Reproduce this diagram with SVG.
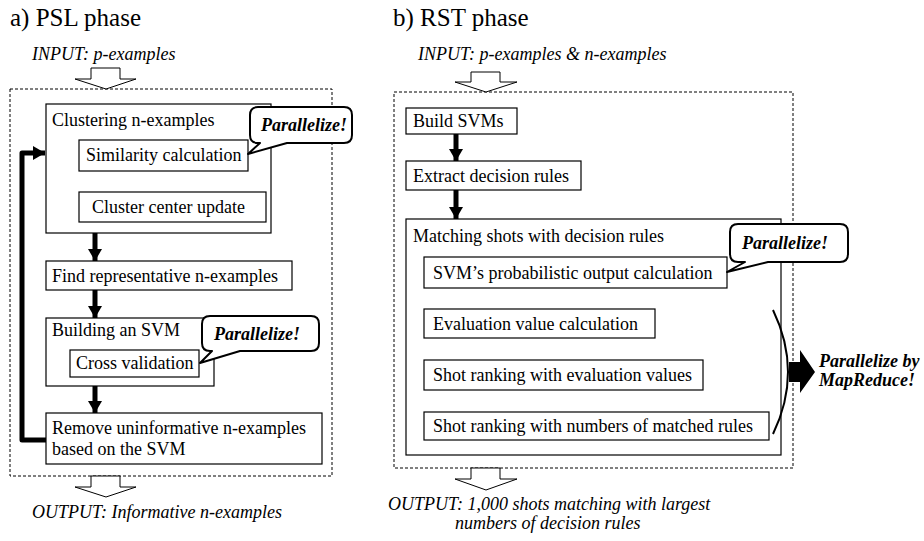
<svg xmlns="http://www.w3.org/2000/svg" width="924" height="541" viewBox="0 0 924 541">
<defs>
<style>
text{font-family:"Liberation Serif","Times New Roman",serif;fill:#000}
.t{font-size:18px}
.ti{font-size:25px}
.it{font-size:18px;font-style:italic}
.bi{font-size:18px;font-style:italic;font-weight:bold}
.box{fill:#fff;stroke:#000;stroke-width:1.2}
.dash{fill:none;stroke:#000;stroke-width:1;stroke-dasharray:3,2}
.thick{fill:none;stroke:#000;stroke-width:5}
.thin{fill:none;stroke:#000;stroke-width:1.5}
.hollow{fill:#fff;stroke:#000;stroke-width:1}
.call{fill:#fff;stroke:#000;stroke-width:2;stroke-linejoin:round}
</style>
<marker id="hk" markerUnits="userSpaceOnUse" markerWidth="14" markerHeight="14" refX="12" refY="7" orient="auto"><path d="M0,0 L12,7 L0,14 Z" fill="#000"/></marker>
<marker id="hs" markerUnits="userSpaceOnUse" markerWidth="8" markerHeight="8" refX="8" refY="4" orient="auto"><path d="M0,0 L8,4 L0,8 Z" fill="#000"/></marker>
</defs>

<!-- Titles -->
<text class="ti" x="10" y="26">a) PSL phase</text>
<text class="ti" x="393" y="26">b) RST phase</text>

<!-- Input/Output labels -->
<text class="it" x="32" y="60">INPUT: p-examples</text>
<text class="it" x="418" y="60">INPUT: p-examples &amp; n-examples</text>
<text class="it" x="32" y="518">OUTPUT: Informative n-examples</text>
<text class="it" x="388" y="510">OUTPUT: 1,000 shots matching with largest</text>
<text class="it" x="455" y="529">numbers of decision rules</text>

<!-- Dashed frames -->
<rect class="dash" x="10" y="89" width="322" height="387"/>
<rect class="dash" x="394" y="92" width="399" height="376"/>

<g id="connectors">
<!-- hollow arrows -->
<path class="hollow" d="M91,68 H120 V79 H136 L106,89 L75,79 H91 Z"/>
<path class="hollow" d="M91,476 H120 V487 H136 L106,497 L75,487 H91 Z"/>
<path class="hollow" d="M471,72 H500 V82 H517 L486,92 L455,82 H471 Z"/>
<path class="hollow" d="M471,468 H500 V479 H517 L486,490 L455,479 H471 Z"/>
<!-- left thick -->
<path class="thick" d="M95,233 V261" marker-end="url(#hk)"/>
<path class="thick" d="M95,290 V318" marker-end="url(#hk)"/>
<path class="thick" d="M95,386 V413" marker-end="url(#hk)"/>
<path class="thick" d="M46,440 H22 V153 H45" stroke-linejoin="round" marker-end="url(#hk)"/>
<!-- left thin -->
<path class="thin" d="M160,171 V192" marker-end="url(#hs)"/>
<path class="thin" d="M79,207 H61 V153 H79" marker-end="url(#hs)"/>
<!-- right thick -->
<path class="thick" d="M456,134 V161" marker-end="url(#hk)"/>
<path class="thick" d="M456,190 V219" marker-end="url(#hk)"/>
<!-- right thin -->
<path class="thin" d="M460,288 V309" marker-end="url(#hs)"/>
<path class="thin" d="M460,338 V360" marker-end="url(#hs)"/>
<path class="thin" d="M460,390 V412" marker-end="url(#hs)"/>
</g>

<!-- Left nodes -->
<g id="clustering">
<rect class="box" x="46" y="104" width="225" height="129"/>
<text class="t" x="52" y="126">Clustering n-examples</text>
</g>
<g id="similarity">
<rect class="box" x="79" y="140" width="169" height="31"/>
<text class="t" x="86" y="161">Similarity calculation</text>
</g>
<g id="cluster-center">
<rect class="box" x="79" y="192" width="187" height="30"/>
<text class="t" x="92" y="213">Cluster center update</text>
</g>
<g id="find-rep">
<rect class="box" x="46" y="261" width="246" height="29"/>
<text class="t" x="52" y="282">Find representative n-examples</text>
</g>
<g id="building-svm">
<rect class="box" x="46" y="318" width="168" height="68"/>
<text class="t" x="52" y="336">Building an SVM</text>
</g>
<g id="cross-validation">
<rect class="box" x="70" y="350" width="129" height="27"/>
<text class="t" x="76" y="369">Cross validation</text>
</g>
<g id="remove">
<rect class="box" x="46" y="413" width="276" height="51"/>
<text class="t" x="52" y="434">Remove uninformative n-examples</text>
<text class="t" x="52" y="455">based on the SVM</text>
</g>
<g id="callout1">
<path class="call" d="M258,107 H344 Q352,107 352,115 V135 Q352,143 344,143 H287 L248,154 L260,143 H258 Q250,143 250,135 V115 Q250,107 258,107 Z"/>
<text class="bi" x="261" y="131">Parallelize!</text>
</g>
<g id="callout2">
<path class="call" d="M210,316 H311 Q319,316 319,324 V343 Q319,351 311,351 H240 L200,363 L212,351 H210 Q202,351 202,343 V324 Q202,316 210,316 Z"/>
<text class="bi" x="214" y="340">Parallelize!</text>
</g>

<!-- Right nodes -->
<g id="build-svms">
<rect class="box" x="406" y="108" width="111" height="26"/>
<text class="t" x="413" y="127">Build SVMs</text>
</g>
<g id="extract">
<rect class="box" x="406" y="161" width="175" height="29"/>
<text class="t" x="413" y="182">Extract decision rules</text>
</g>
<g id="matching">
<rect class="box" x="406" y="219" width="375" height="236"/>
<text class="t" x="413" y="242">Matching shots with decision rules</text>
</g>
<g id="svm-prob">
<rect class="box" x="424" y="257" width="303" height="31"/>
<text class="t" x="433" y="279">SVM’s probabilistic output calculation</text>
</g>
<g id="eval">
<rect class="box" x="424" y="309" width="231" height="29"/>
<text class="t" x="433" y="330">Evaluation value calculation</text>
</g>
<g id="rank-eval">
<rect class="box" x="424" y="360" width="279" height="30"/>
<text class="t" x="433" y="381">Shot ranking with evaluation values</text>
</g>
<g id="rank-num">
<rect class="box" x="424" y="412" width="345" height="28"/>
<text class="t" x="433" y="432">Shot ranking with numbers of matched rules</text>
</g>
<g id="callout3">
<path class="call" d="M738,224 H840 Q848,224 848,232 V254 Q848,262 840,262 H768 L727,272 L745,262 H738 Q730,262 730,254 V232 Q730,224 738,224 Z"/>
<text class="bi" x="742" y="249">Parallelize!</text>
</g>
<g id="mapreduce">
<path d="M773,310 Q803,372 773,434" fill="none" stroke="#000" stroke-width="2"/>
<path d="M789,362 H800 V350 L815,372 L800,393 V382 H789 Z" fill="#000"/>
<text class="bi" x="819" y="367">Parallelize by</text>
<text class="bi" x="819" y="386">MapReduce!</text>
</g>
</svg>
